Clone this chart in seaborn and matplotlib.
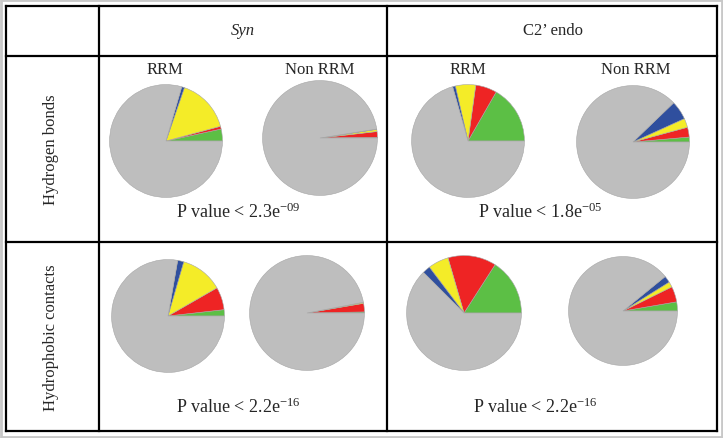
import matplotlib
matplotlib.use("Agg")
import matplotlib.pyplot as plt
import seaborn as sns

sns.set_theme(style="white")
plt.rcParams["font.family"] = ["Liberation Serif", "DejaVu Serif"]
plt.rcParams["mathtext.fontset"] = "custom"
plt.rcParams["mathtext.rm"] = "Liberation Serif"
plt.rcParams["mathtext.it"] = "Liberation Serif:italic"

# slice order (counter-clockwise from 3 o'clock): green, red, yellow, blue, gray
slice_colors = ["#5cbf45", "#ee2424", "#f4ec28", "#2f4f9e", "#bebebe"]

row_labels = ["Hydrogen bonds", "Hydrophobic contacts"]
col_labels = ["Syn", "C2\u2019 endo"]
sub_labels = ["RRM", "Non RRM"]

# percentages of green, red, yellow, blue (gray = remainder)
hb_syn_rrm = [3.4, 0.8, 15.5, 0.8]
hb_syn_non = [0.2, 1.6, 0.6, 0.1]
hb_c2_rrm = [16.7, 6.1, 5.8, 0.8]
hb_c2_non = [1.4, 2.8, 2.6, 5.4]
hc_syn_rrm = [1.8, 6.5, 12.2, 1.75]
hc_syn_non = [0.3, 2.4, 0.3, 0.0]
hc_c2_rrm = [15.9, 13.6, 5.8, 2.2]
hc_c2_non = [2.7, 4.6, 1.6, 2.0]

p_values = [["2.3e$^{-09}$", "1.8e$^{-05}$"], ["2.2e$^{-16}$", "2.2e$^{-16}$"]]

W, H = 723, 439
fig = plt.figure(figsize=(W / 100, H / 100), dpi=100)

# background axes in pixel coordinates for the table grid and text
bg = fig.add_axes([0, 0, 1, 1])
bg.set_xlim(0, W)
bg.set_ylim(H, 0)
bg.axis("off")

# light grey frame around the image
bg.add_patch(plt.Rectangle((1, 1), W - 2, H - 2, fill=False, ec="#c8c8c8", lw=2))

# table lines
lw = 1.6
x_left, x_c1, x_c2, x_right = 6, 99, 387, 717
y_top, y_r1, y_r2, y_bot = 7, 57, 243, 432
for x in [x_left, x_c1, x_c2, x_right]:
    bg.plot([x, x], [y_top, y_bot], color="black", lw=lw, solid_capstyle="projecting")
for y in [y_top, y_r1, y_r2, y_bot]:
    bg.plot([x_left, x_right], [y, y], color="black", lw=lw, solid_capstyle="projecting")

# headers
bg.text(243, 31, col_labels[0], ha="center", va="center", fontsize=12, style="italic")
bg.text(553, 31, col_labels[1], ha="center", va="center", fontsize=12)
bg.text(51, 150, row_labels[0], ha="center", va="center", fontsize=12, rotation=90)
bg.text(51, 338, row_labels[1], ha="center", va="center", fontsize=12, rotation=90)

for cx, lab in zip([165, 320, 468, 636], sub_labels * 2):
    bg.text(cx, 70, lab, ha="center", va="center", fontsize=12)

p_pos = [[(238, 212), (540, 212)], [(238, 407), (535, 407)]]
for r in range(2):
    for c in range(2):
        x, y = p_pos[r][c]
        bg.text(x, y, "P value < " + p_values[r][c], ha="center", va="center", fontsize=13)

# pies: (data, centre x, centre y, radius) in pixels
pies = [
    (hb_syn_rrm, 166, 142, 57),
    (hb_syn_non, 320, 139, 58),
    (hb_c2_rrm, 468, 142, 57),
    (hb_c2_non, 633, 143, 57),
    (hc_syn_rrm, 168, 317, 57),
    (hc_syn_non, 307, 314, 58),
    (hc_c2_rrm, 464, 314, 58),
    (hc_c2_non, 623, 312, 55),
]

for vals, cx, cy, rad in pies:
    ax = fig.add_axes([(cx - rad) / W, 1 - (cy + rad) / H, 2 * rad / W, 2 * rad / H])
    full = list(vals) + [100 - sum(vals)]
    ax.pie(full, colors=slice_colors, startangle=0, counterclock=True,
           wedgeprops=dict(edgecolor="#a6a6a6", linewidth=0.4))
    ax.set_xlim(-1.01, 1.01)
    ax.set_ylim(-1.01, 1.01)
    ax.set_aspect("equal")
    ax.axis("off")

fig.savefig("out.png", dpi=100)
